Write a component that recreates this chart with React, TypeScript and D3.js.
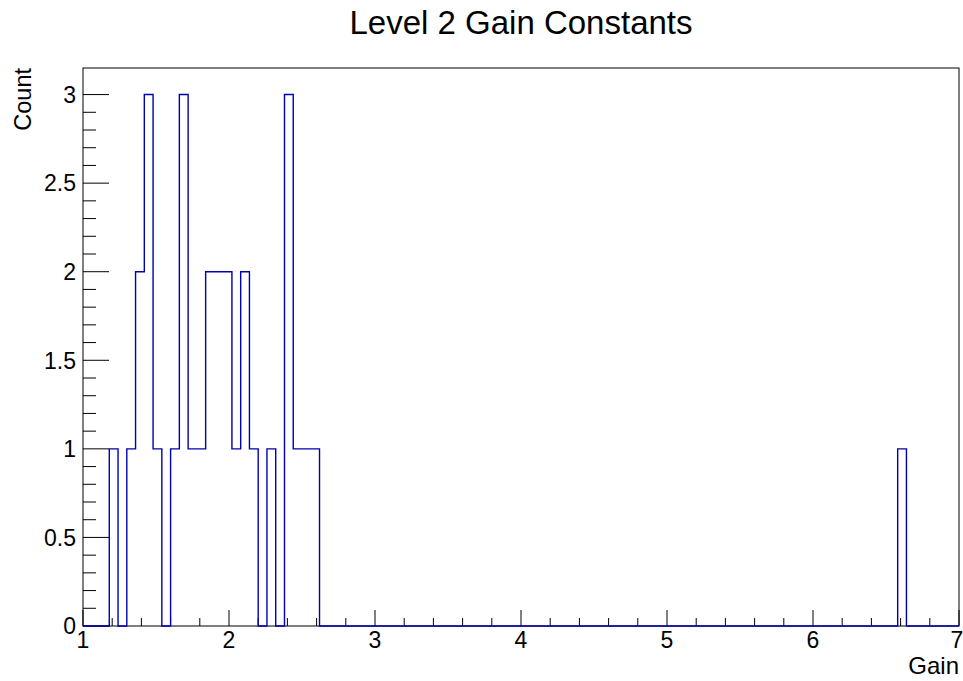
import React from "react";
import * as d3 from "d3";

const title = "Level 2 Gain Constants";
const xTitle = "Gain";
const yTitle = "Count";
const nBins = 100;
const xMin = 1;
const xMax = 7;
const yMax = 3.15;
// bin centers of non-empty bins and their counts
const binCenters = [1.21, 1.33, 1.39, 1.45, 1.51, 1.63, 1.69, 1.75, 1.81, 1.87, 1.93, 1.99, 2.05, 2.11, 2.17, 2.29, 2.41, 2.47, 2.53, 2.59, 6.61];
const binCounts = [1, 1, 2, 3, 1, 1, 3, 1, 1, 2, 2, 2, 1, 2, 1, 1, 3, 1, 1, 1, 1];
const xTickLabels = ["1", "2", "3", "4", "5", "6", "7"];
const yTickLabels = ["0", "0.5", "1", "1.5", "2", "2.5", "3"];

const W = 963;
const H = 681;
const L = 83, R = 959, T = 68, B = 626;
const FONT = "'Liberation Sans', Arial, Helvetica, sans-serif";

export default function App() {
  const x = d3.scaleLinear().domain([xMin, xMax]).range([L, R]);
  const y = d3.scaleLinear().domain([0, yMax]).range([B, T]);
  const bw = (xMax - xMin) / nBins;

  const counts = new Array(nBins).fill(0);
  binCenters.forEach((c, i) => {
    const idx = Math.floor((c - xMin) / bw);
    counts[idx] += binCounts[i];
  });
  const pts: [number, number][] = counts.map((c, i) => [xMin + i * bw, c]);
  pts.push([xMax, counts[nBins - 1]]);
  const line = d3
    .line<[number, number]>()
    .x((d) => x(d[0]))
    .y((d) => y(d[1]))
    .curve(d3.curveStepAfter);
  const path = `M${x(xMin)},${y(0)}L` + (line(pts) as string).slice(1) + `L${x(xMax)},${y(0)}`;

  const yMinor = d3.range(0, 31).map((i) => i / 10);
  const xMinor = d3.range(0, 31).map((i) => xMin + i * 0.2);

  return (
    <svg width={W} height={H} style={{ position: "absolute", left: 0, top: 0, background: "#fff" }} fontFamily={FONT}>
      <rect x={0} y={0} width={W} height={H} fill="#fff" />
      <text x={(L + R) / 2} y={34} textAnchor="middle" fontSize={33} fill="#000">{title}</text>
      <rect x={L} y={T} width={R - L} height={B - T} fill="none" stroke="#000" strokeWidth={1} />
      {yMinor.map((v, i) => {
        const major = i % 5 === 0;
        return <line key={"ym" + i} x1={L} x2={L + (major ? 26 : 13)} y1={y(v)} y2={y(v)} stroke="#000" strokeWidth={1} />;
      })}
      {xMinor.map((v, i) => {
        const major = i % 5 === 0;
        return <line key={"xm" + i} x1={x(v)} x2={x(v)} y1={B} y2={B - (major ? 16 : 8)} stroke="#000" strokeWidth={1} />;
      })}
      {yTickLabels.map((t) => (
        <text key={"yl" + t} x={76} y={y(+t)} dy="0.36em" textAnchor="end" fontSize={23} fill="#000">{t}</text>
      ))}
      {xTickLabels.map((t, i) => (
        <text key={"xl" + t} x={i === xTickLabels.length - 1 ? x(+t) - 2 : x(+t)} y={648} textAnchor="middle" fontSize={23} fill="#000">{t}</text>
      ))}
      <text x={R} y={674} textAnchor="end" fontSize={24} fill="#000">{xTitle}</text>
      <text transform={`translate(31,${T}) rotate(-90)`} textAnchor="end" fontSize={23.5} fill="#000">{yTitle}</text>
      <path d={path} fill="none" stroke="#0000b0" strokeWidth={1.4} />
    </svg>
  );
}
